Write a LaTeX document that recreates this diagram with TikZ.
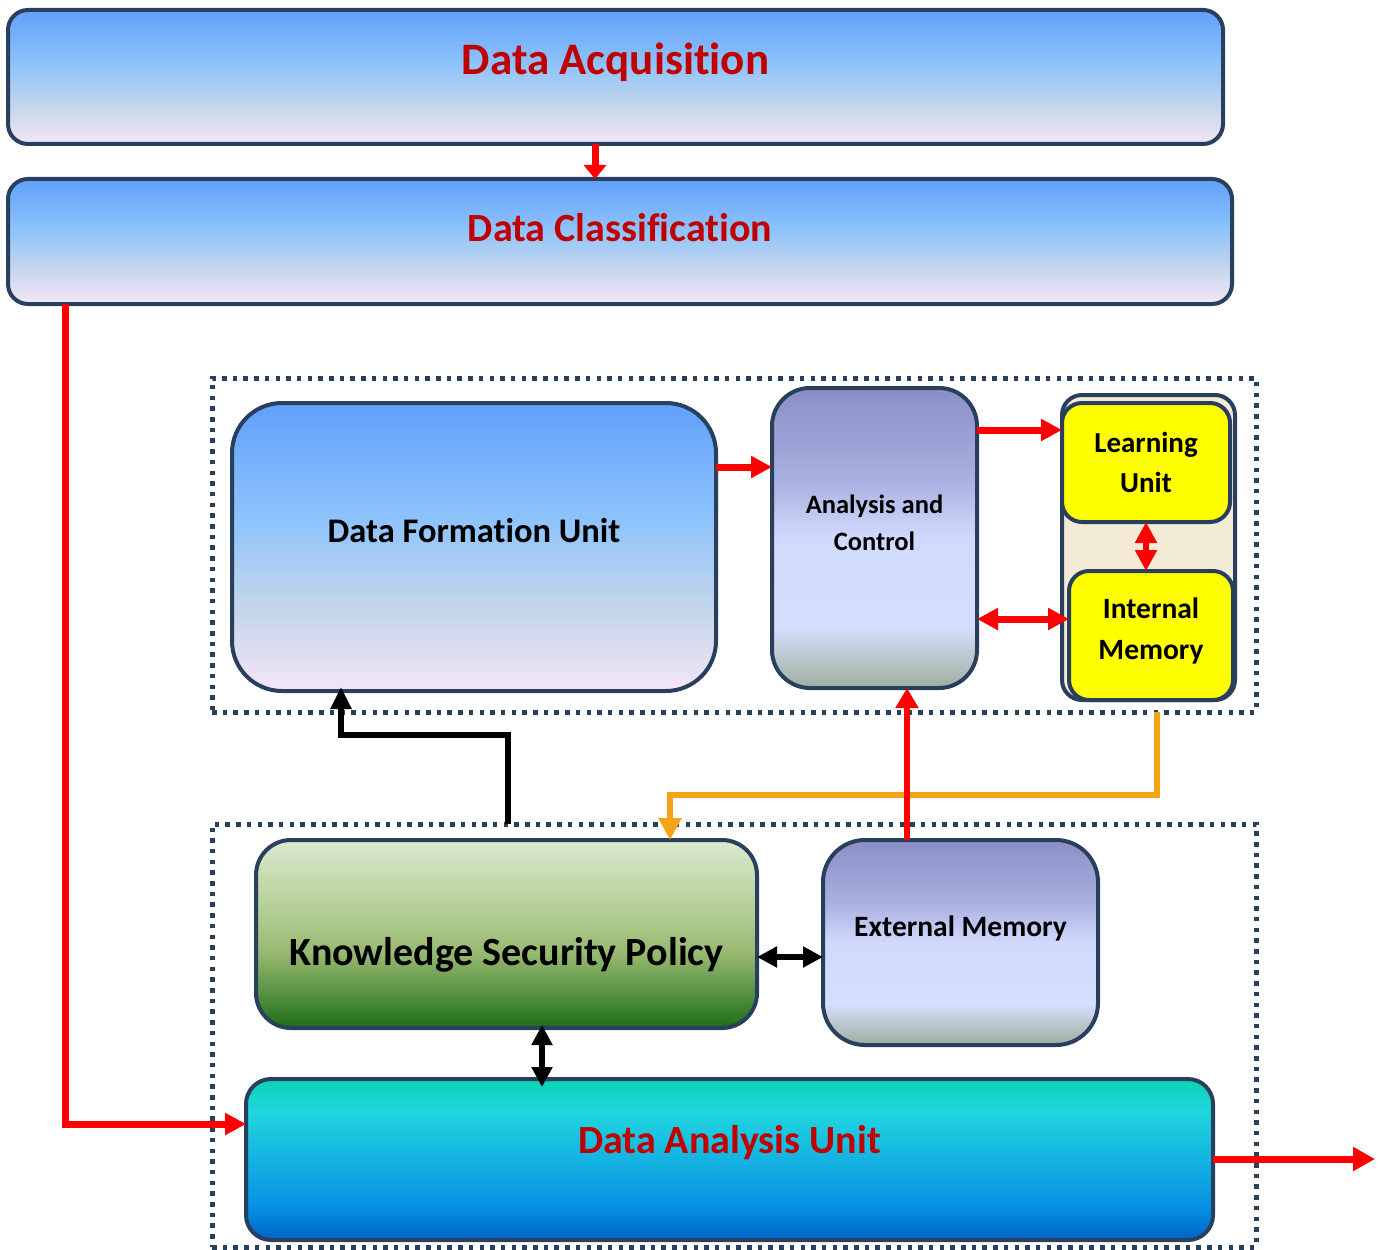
\documentclass[tikz,border=0pt]{standalone}
\usepackage{fontspec}
\setmainfont{Carlito}[Ligatures=NoCommon]
\usetikzlibrary{arrows.meta,calc}
\definecolor{navy}{HTML}{283F5E}
\definecolor{dred}{HTML}{C00000}
\definecolor{ared}{HTML}{FF0000}
\definecolor{aorange}{HTML}{F5A41A}
\definecolor{ybox}{HTML}{FFFF00}
\definecolor{beige}{HTML}{F3EBD6}
\definecolor{bA}{HTML}{F3E6F6}\definecolor{bB}{HTML}{C6D6EB}\definecolor{bC}{HTML}{8DC3FB}\definecolor{bD}{HTML}{60A0FA}
\definecolor{pA}{HTML}{9CAFA0}\definecolor{pB}{HTML}{C3CDDA}\definecolor{pC}{HTML}{D4DFFD}\definecolor{pD}{HTML}{D0DAFC}\definecolor{pE}{HTML}{A9AFDF}\definecolor{pF}{HTML}{8A8FC7}
\definecolor{gA}{HTML}{1D6B18}\definecolor{gB}{HTML}{5B9445}\definecolor{gC}{HTML}{97B970}\definecolor{gD}{HTML}{B7D099}\definecolor{gE}{HTML}{DCE9CF}
\definecolor{tA}{HTML}{0062C4}\definecolor{tB}{HTML}{0690E3}\definecolor{tC}{HTML}{14B3E1}\definecolor{tD}{HTML}{20D6DE}\definecolor{tE}{HTML}{0CD2B5}
\pgfdeclareverticalshading{bluesh}{100bp}{color(0bp)=(bA); color(25bp)=(bA); color(39bp)=(bB); color(55bp)=(bC); color(75bp)=(bD); color(100bp)=(bD)}
\pgfdeclareverticalshading{purpsh}{100bp}{color(0bp)=(pA); color(25bp)=(pA); color(31.5bp)=(pB); color(35bp)=(pC); color(50bp)=(pD); color(60bp)=(pE); color(75bp)=(pF); color(100bp)=(pF)}
\pgfdeclareverticalshading{greensh}{100bp}{color(0bp)=(gA); color(25bp)=(gA); color(35bp)=(gB); color(45bp)=(gC); color(57.5bp)=(gD); color(75bp)=(gE); color(100bp)=(gE)}
\pgfdeclareverticalshading{tealsh}{100bp}{color(0bp)=(tA); color(25bp)=(tA); color(35bp)=(tB); color(50bp)=(tC); color(65bp)=(tD); color(75bp)=(tE); color(100bp)=(tE)}
\begin{document}
\begin{tikzpicture}[x=1pt,y=-1pt,
  box/.style={draw=navy, line width=4pt, inner sep=0pt, outer sep=0pt, anchor=north west},
  group/.style={draw=navy, line width=5pt, dash pattern=on 4.5pt off 6.2pt, inner sep=0pt, outer sep=0pt, anchor=north west},
  ttl/.style={font=\fontsize{#1}{#1}\selectfont\bfseries, text=dred},
  lbl/.style={font=\fontsize{#1}{#1}\selectfont\bfseries, text=black, align=center},
  redarr/.style={draw=ared, line width=7pt, -{Triangle[length=21pt,width=21pt]}},
  redarrs/.style={draw=ared, line width=7pt, {Triangle[length=21pt,width=21pt]}-{Triangle[length=21pt,width=21pt]}},
  blkarr/.style={draw=black, line width=6pt, -{Triangle[length=22pt,width=20pt]}},
  blkarrs/.style={draw=black, line width=6pt, {Triangle[length=20pt,width=20pt]}-{Triangle[length=20pt,width=20pt]}},
  orarr/.style={draw=aorange, line width=6pt, -{Triangle[length=22pt,width=22pt]}}
]
\useasboundingbox (0,0) rectangle (1380,1249);

% groups
\node[group, minimum width=1044pt, minimum height=334pt] (g1) at (212,378) {};
\node[group, minimum width=1044pt, minimum height=423pt] (g2) at (212,824) {};

% top boxes
\node[box, rounded corners=20pt, shading=bluesh, minimum width=1215pt, minimum height=134pt,
  label={[ttl=45, yshift=15pt]center:Data Acquisition}] (da) at (8,10) {};
\node[box, rounded corners=20pt, shading=bluesh, minimum width=1224pt, minimum height=125pt,
  label={[ttl=40, yshift=14pt]center:Data Classification}] (dc) at (8,179) {};

% upper group
\node[box, rounded corners=50pt, shading=bluesh, minimum width=484pt, minimum height=288pt,
  label={[lbl=34.5, yshift=16pt]center:Data Formation Unit}] (dfu) at (232,403) {};
\node[box, rounded corners=38pt, shading=purpsh, minimum width=205pt, minimum height=300pt,
  label={[lbl=26.5, yshift=15pt, font=\fontsize{26.5}{37}\selectfont\bfseries]center:Analysis and\\Control}] (ac) at (772,388) {};
\node[box, rounded corners=20pt, fill=beige, minimum width=173pt, minimum height=305pt] (ct) at (1062,395) {};
\node[box, rounded corners=20pt, fill=ybox, minimum width=168pt, minimum height=119pt,
  label={[lbl=29, font=\fontsize{29}{40}\selectfont\bfseries]center:Learning\\Unit}] (lu) at (1062,403) {};
\node[box, rounded corners=20pt, fill=ybox, minimum width=164pt, minimum height=129pt,
  label={[lbl=29.5, yshift=5pt, font=\fontsize{29.5}{41}\selectfont\bfseries]center:Internal\\Memory}] (im) at (1069,571) {};

% lower group
\node[box, rounded corners=35pt, shading=greensh, minimum width=501pt, minimum height=188pt,
  label={[lbl=40, yshift=-21pt]center:Knowledge Security Policy}] (ksp) at (256,840) {};
\node[box, rounded corners=42pt, shading=purpsh, minimum width=275pt, minimum height=205pt,
  label={[lbl=29.5, yshift=14pt]center:External Memory}] (em) at (823,840) {};
\node[box, rounded corners=25pt, shading=tealsh, minimum width=967pt, minimum height=161pt,
  label={[ttl=40, yshift=17pt]center:Data Analysis Unit}] (dau) at (246,1079) {};

% helper coordinates
\coordinate (p1) at (595,0);
\coordinate (p2) at (65,1124);
\coordinate (p3) at (0,467);
\coordinate (p4) at (0,430);
\coordinate (p5) at (0,619);
\coordinate (p6) at (1146,0);
\coordinate (p7) at (907,0);
\coordinate (p8) at (508,0);
\coordinate (q) at (341,735);
\coordinate (p10) at (1157,0);
\coordinate (r) at (670,795);
\coordinate (p11) at (0,957);
\coordinate (p12) at (542,0);
\coordinate (p13) at (1375,1159);

% connectors
\draw[redarr, -{Triangle[length=14pt,width=22pt]}] (da.south -| p1) -- (dc.north -| p1);
\draw[redarr] (dc.south -| p2) |- (dau.west |- p2);
\draw[redarr] (dfu.east |- p3) -- (ac.west |- p3);
\draw[redarr] (ac.east |- p4) -- (lu.west |- p4);
\draw[redarrs] (ac.east |- p5) -- (im.west |- p5);
\draw[redarrs, line width=6pt] (lu.south -| p6) -- (im.north -| p6);
\draw[blkarr] (g2.north -| p8) |- (q) -- ([yshift=4pt]dfu.south -| q);
\draw[orarr] (g1.south -| p10) |- (r) -- (ksp.north -| r);
\draw[redarr, line width=6pt, -{Triangle[length=20pt,width=22pt]}] (em.north -| p7) -- (ac.south -| p7);
\draw[blkarrs] (ksp.east |- p11) -- (em.west |- p11);
\draw[blkarrs] ([yshift=3pt]ksp.south -| p12) -- ([yshift=-8pt]dau.north -| p12);
\draw[redarr, -{Triangle[length=22pt,width=23pt]}] (dau.east |- p13) -- (p13);
\end{tikzpicture}
\end{document}
